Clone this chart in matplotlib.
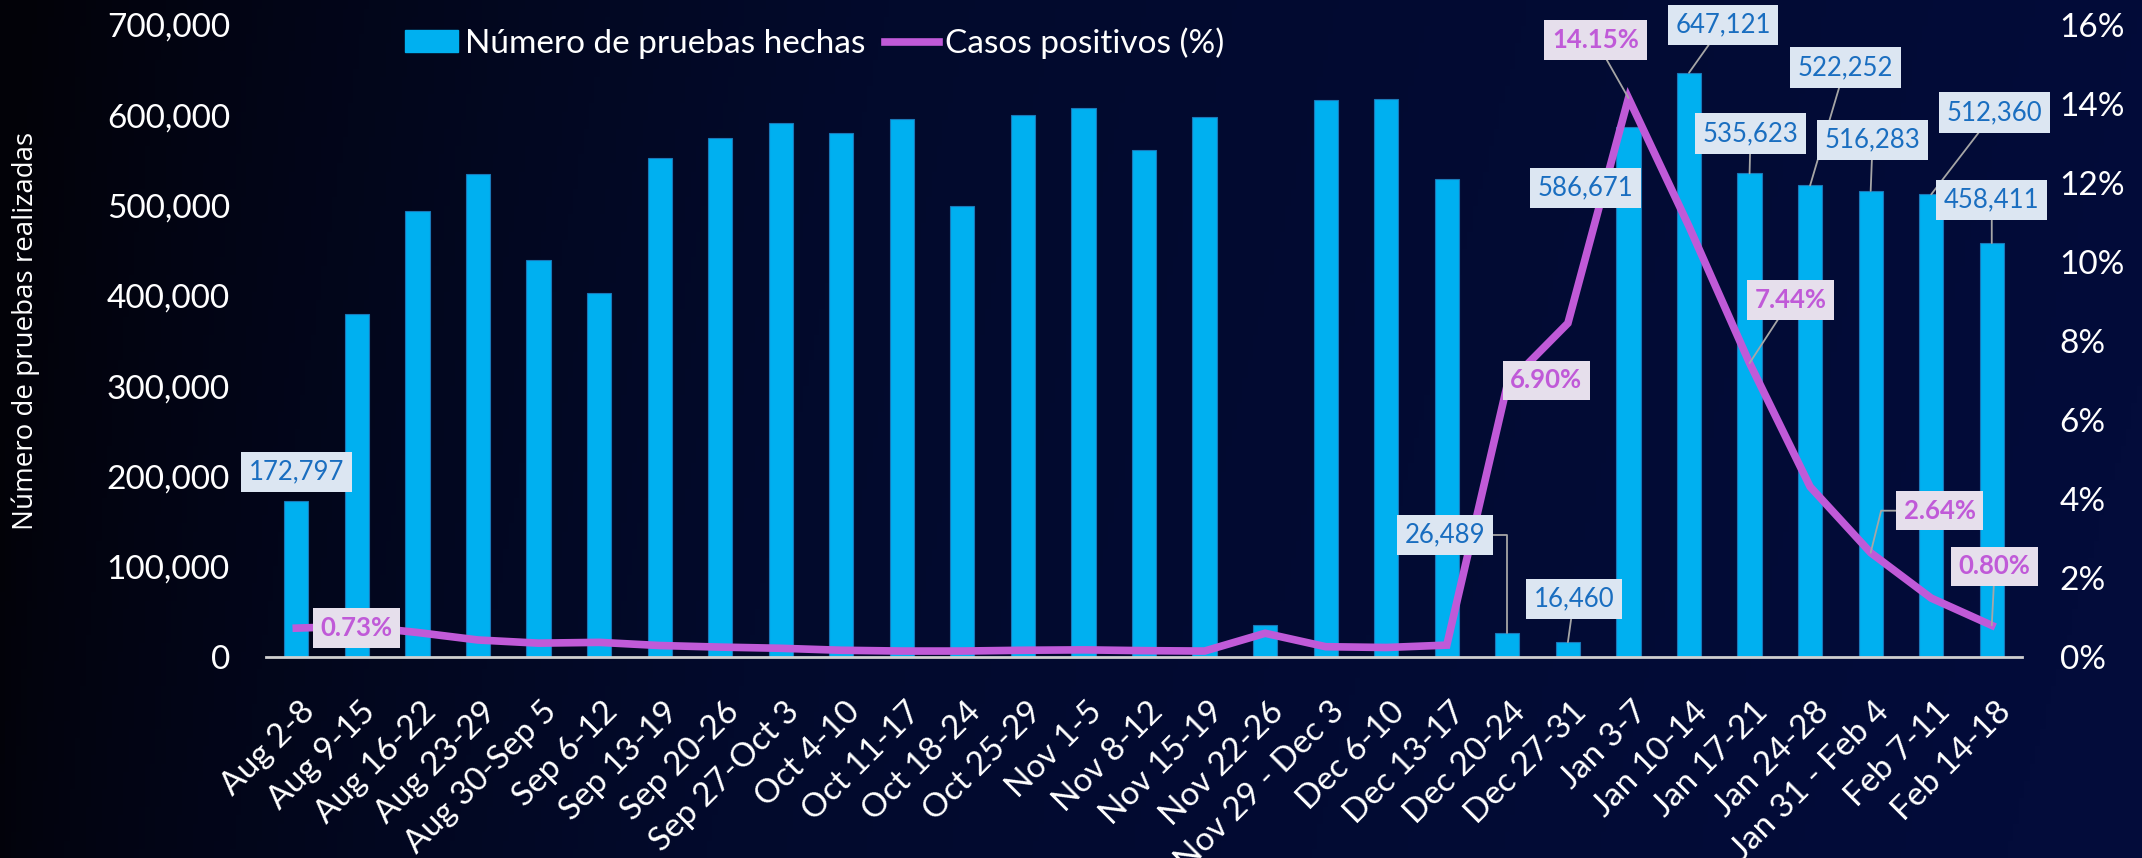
import matplotlib
matplotlib.use("Agg")
import matplotlib.pyplot as plt
import matplotlib.transforms as mtransforms
from matplotlib.colors import LinearSegmentedColormap
from matplotlib.patches import Patch
from matplotlib.lines import Line2D
import numpy as np

plt.rcParams['font.family'] = ['Lato', 'DejaVu Sans']

semanas = ['Aug 2-8', 'Aug 9-15', 'Aug 16-22', 'Aug 23-29', 'Aug 30-Sep 5', 'Sep 6-12',
           'Sep 13-19', 'Sep 20-26', 'Sep 27-Oct 3', 'Oct 4-10', 'Oct 11-17', 'Oct 18-24',
           'Oct 25-29', 'Nov 1-5', 'Nov 8-12', 'Nov 15-19', 'Nov 22-26', 'Nov 29 - Dec 3',
           'Dec 6-10', 'Dec 13-17', 'Dec 20-24', 'Dec 27-31', 'Jan 3-7', 'Jan 10-14',
           'Jan 17-21', 'Jan 24-28', 'Jan 31 - Feb 4', 'Feb 7-11', 'Feb 14-18']

pruebas = [172797, 380000, 494000, 535000, 440000, 403000, 553000, 575000, 591000,
           580000, 596000, 500000, 600000, 608000, 561000, 598000, 35000, 617000,
           618000, 529000, 26489, 16460, 586671, 647121, 535623, 522252, 516283,
           512360, 458411]

positivos = [0.73, 0.78, 0.62, 0.43, 0.35, 0.37, 0.29, 0.25, 0.22, 0.17, 0.15, 0.15,
             0.17, 0.18, 0.16, 0.15, 0.60, 0.26, 0.24, 0.30, 6.90, 8.45, 14.15, 10.9,
             7.44, 4.31, 2.64, 1.49, 0.80]

# which points get a data label
idx_pruebas = [0, 20, 21, 22, 23, 24, 25, 26, 27, 28]
idx_positivos = [0, 20, 22, 24, 26, 28]

# label offsets in pixels (dx, dy) and leader style
off_pruebas = {0: (0, 29, None), 20: (-62, 98, 'angle,angleA=0,angleB=90,rad=0'),
               21: (6, 43, 'arc3'), 22: (-43, -61, None), 23: (34, 48, 'arc3'),
               24: (1, 40, 'arc3'), 25: (35, 118, 'arc3'), 26: (2, 51, 'arc3'),
               27: (63, 82, 'arc3'), 28: (0, 43, 'arc3')}
off_positivos = {0: (60, 0, None), 20: (39, 4, None), 22: (-33, 58, 'arc3'),
                 24: (41, 63, 'arc3'), 26: (69, 42, 'angle,angleA=0,angleB=76,rad=0'),
                 28: (3, 59, 'arc3')}

azul = '#00b0f0'
morado = '#c05ad8'
x = np.arange(len(semanas))

fig = plt.figure(figsize=(21.42, 8.58), dpi=100)

# background gradient
bg = fig.add_axes([0, 0, 1, 1], zorder=-5)
cmap = LinearSegmentedColormap.from_list('bg', ['#020208', '#020a2c', '#030c3a'])
gx = np.linspace(0, 1, 400) ** 0.7
grad = np.tile(gx, (100, 1))
gy = np.linspace(0, 1, 100)[:, None]
grad = np.clip(grad + 0.08 * gy - 0.04, 0, 1)
bg.imshow(grad, aspect='auto', cmap=cmap, extent=[0, 1, 0, 1], origin='upper')
bg.axis('off')

ax = fig.add_axes([0.1242, 0.2343, 0.8198, 0.7366])
ax.set_facecolor('none')
ax.bar(x, pruebas, width=0.4, color=azul, edgecolor='#1a78b8', linewidth=0.8, zorder=2)
ax.set_xlim(-0.5, len(semanas) - 0.5)
ax.set_ylim(0, 700000)
ax.set_yticks(np.arange(0, 700001, 100000))
ax.set_yticklabels([f'{v:,.0f}' for v in np.arange(0, 700001, 100000)])
ax.tick_params(axis='y', length=0, pad=26, labelsize=24, colors='white')
ax.set_xticks(x)
ax.set_xticklabels(semanas, rotation=45, ha='right', va='center', rotation_mode='anchor')
ax.tick_params(axis='x', length=0, pad=36, labelsize=24, colors='white')
off = mtransforms.ScaledTranslation(0.14, 0, fig.dpi_scale_trans)
for lab in ax.get_xticklabels():
    lab.set_transform(lab.get_transform() + off)
for s in ['top', 'right', 'left']:
    ax.spines[s].set_visible(False)
ax.spines['bottom'].set_color('#d0d0d0')
ax.spines['bottom'].set_linewidth(2)
ax.set_ylabel('Número de pruebas realizadas', color='white', fontsize=20, family='Open Sans',
              va='center')
ax.yaxis.set_label_coords(-0.137, 0.516)

ax2 = ax.twinx()
ax2.plot(x, positivos, color=morado, linewidth=5.5, solid_joinstyle='miter', zorder=3)
ax2.set_ylim(0, 16)
ax2.set_yticks(np.arange(0, 17, 2))
ax2.set_yticklabels([f'{v}%' for v in range(0, 17, 2)])
ax2.tick_params(axis='y', length=0, pad=27, labelsize=24, colors='white')
for s in ax2.spines.values():
    s.set_visible(False)


def etiqueta(xy_ax, i, y, txt, dx, dy, conn, fc, tc, bold):
    arrow = None
    if conn:
        arrow = dict(arrowstyle='-', color='#a6a6a6', lw=1.3, shrinkA=0, shrinkB=0,
                     connectionstyle=conn)
    ax2.annotate(txt, xy=(i, y), xycoords=xy_ax.transData,
                 xytext=(dx * 0.72, dy * 0.72), textcoords='offset points',
                 ha='center', va='center', fontsize=18.5, color=tc,
                 fontweight='bold' if bold else 'normal',
                 bbox=dict(boxstyle='square,pad=0.3', fc=fc, ec='none'),
                 arrowprops=arrow, zorder=10)


for i in idx_pruebas:
    dx, dy, conn = off_pruebas[i]
    etiqueta(ax, i, pruebas[i], f'{pruebas[i]:,}', dx, dy, conn, '#dce6f2', '#1a6ec0', False)

for i in idx_positivos:
    dx, dy, conn = off_positivos[i]
    etiqueta(ax2, i, positivos[i], f'{positivos[i]:.2f}%', dx, dy, conn, '#e6dfec', morado, True)

handles = [Patch(color=azul), Line2D([0], [0], color=morado, lw=5.5)]
fig.legend(handles, ['Número de pruebas hechas', 'Casos positivos (%)'],
           loc='center left', bbox_to_anchor=(0.189, 0.95), ncol=2, frameon=False,
           fontsize=24, labelcolor='white', handlelength=1.6, handleheight=0.6,
           handletextpad=0.2, columnspacing=0.6, borderpad=0, borderaxespad=0)

fig.savefig('out.png', dpi=100)
